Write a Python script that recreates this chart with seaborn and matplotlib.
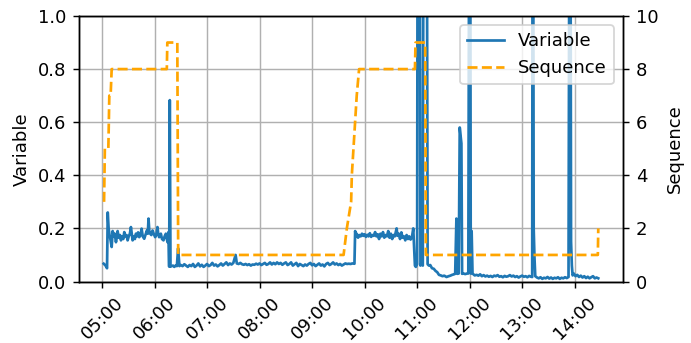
import pandas as pd
import numpy as np
import seaborn as sns
import matplotlib.pyplot as plt
import matplotlib.dates as mdates

# minutes after 05:00 and the variable value
var_min = [1.9, 4, 5.7, 6.5, 7.5, 8.3, 9.5, 11, 12.1, 13.5, 14.5, 15.9, 17, 17.8, 19, 20.5, 21.6, 23, 24.2, 25.4,
           26.5, 28, 29.2, 30.5, 31.8, 33, 34.9, 36, 37.5, 38.7, 40, 41.2, 42.5, 44, 45.2, 46.5, 48.2, 49.5, 51.2,
           52.3, 53.1, 54, 55, 56.3, 57.7, 59, 60.7, 62, 63.3, 64.2, 65.2, 66.2, 67.2, 68.5, 70.2, 71.5, 72.9, 74.8,
           75.9, 76.7, 77.4, 78.2,
           79.5, 81, 82.5, 84, 85.5, 86.9, 88.4, 90, 92, 94, 96, 98, 100, 102, 104, 106, 108, 110, 112, 114, 116,
           118, 120, 122, 124, 126, 128, 130, 132, 134, 136, 138, 140, 142, 144, 146, 148, 150, 152.6, 154, 156,
           158, 160, 162, 164, 166, 168, 170, 172, 174, 176, 178, 180, 182, 184, 186, 188, 190, 192, 194, 196, 198,
           200, 202, 204, 206, 208, 210, 212, 214, 216, 218, 220, 222, 224, 226, 228, 230, 232, 234, 236, 238, 240,
           242, 244, 246, 248, 250, 252, 254, 256, 258, 260, 262, 264, 266, 268, 270, 272, 274, 276, 278, 280, 282,
           284, 286, 288.4,
           289.2, 290, 291, 292.5, 294, 295.5, 297, 298.5, 300, 301.5, 303, 304.5, 306, 307.5, 309, 310.5, 312,
           313.5, 315, 316.5, 318, 319.5, 321, 322.5, 324, 325.5, 327, 328.5, 330, 331.5, 333, 334.5, 336.6, 337.5,
           339, 340.5, 342, 343.5, 345, 346.5, 348, 349.5, 351, 352.5, 354, 355.6,
           357.5, 358.5, 360, 361, 362.5, 363.8, 365, 366.5, 367.8, 370.5, 372, 373.5, 375, 377, 379, 381, 383,
           385, 387, 389, 391, 393.6, 396, 398, 400, 402, 403.5, 404.9, 406, 407.5, 408.7, 409.7, 410.6, 411.4,
           413, 415, 417, 418.5, 420.2, 421.3, 422.3, 423.3, 425.8,
           428, 430, 432, 434, 436, 438, 440, 442, 444, 446, 448, 450, 452, 454, 456, 458, 460, 462, 464, 466, 468,
           470, 472, 474, 476, 478, 480, 482, 484, 486, 488, 490, 491.5, 492.2, 493.2, 494.1, 495, 497, 499, 501,
           503, 505, 507, 509, 511, 513, 515, 517, 519, 521, 523, 525, 527, 529, 531, 533, 534.7, 535.9, 536.8,
           537.7, 539, 541, 543, 545, 547, 549, 551, 553, 555, 557, 559, 561, 563, 565, 567]
var_val = [0.067, 0.06, 0.05, 0.26, 0.2, 0.18, 0.16, 0.13, 0.19, 0.17, 0.18, 0.148, 0.17, 0.19, 0.165, 0.175, 0.155,
           0.17, 0.16, 0.186, 0.17, 0.175, 0.155, 0.17, 0.18, 0.205, 0.155, 0.17, 0.16, 0.18, 0.17, 0.185, 0.167,
           0.175, 0.199, 0.17, 0.161, 0.175, 0.192, 0.18, 0.237, 0.19, 0.18, 0.175, 0.192, 0.18, 0.167, 0.175, 0.205,
           0.18, 0.167, 0.17, 0.18, 0.16, 0.155, 0.17, 0.18, 0.148, 0.186, 0.056, 0.683, 0.056,
           0.058, 0.06, 0.055, 0.06, 0.058, 0.125, 0.058, 0.062, 0.058, 0.065, 0.06, 0.055, 0.062, 0.058, 0.066,
           0.055, 0.06, 0.068, 0.057, 0.063, 0.055, 0.06, 0.066, 0.058, 0.062, 0.07, 0.06, 0.064, 0.057, 0.062,
           0.068, 0.06, 0.066, 0.072, 0.062, 0.068, 0.064, 0.07, 0.1, 0.068, 0.066, 0.07, 0.065, 0.063, 0.066, 0.062,
           0.065, 0.06, 0.064, 0.063, 0.067, 0.064, 0.068, 0.062, 0.066, 0.07, 0.063, 0.066, 0.072, 0.064, 0.07,
           0.065, 0.072, 0.066, 0.07, 0.063, 0.068, 0.072, 0.062, 0.066, 0.072, 0.06, 0.065, 0.07, 0.058, 0.066,
           0.062, 0.058, 0.064, 0.06, 0.066, 0.07, 0.061, 0.066, 0.058, 0.063, 0.068, 0.06, 0.064, 0.057, 0.066,
           0.07, 0.062, 0.066, 0.072, 0.064, 0.068, 0.062, 0.066, 0.06, 0.064, 0.068, 0.066, 0.067, 0.066, 0.068,
           0.067,
           0.19, 0.17, 0.18, 0.165, 0.175, 0.17, 0.18, 0.172, 0.178, 0.168, 0.176, 0.17, 0.182, 0.168, 0.175, 0.172,
           0.186, 0.17, 0.178, 0.16, 0.18, 0.17, 0.186, 0.165, 0.175, 0.17, 0.19, 0.165, 0.18, 0.16, 0.175, 0.17,
           0.2, 0.172, 0.18, 0.16, 0.185, 0.165, 0.17, 0.155, 0.175, 0.16, 0.17, 0.158, 0.165, 0.2,
           0.06, 0.055, 0.065, 2.5, 2.5, 0.06, 0.07, 0.06, 2.5, 2.5, 0.065, 0.06, 0.062, 0.05, 0.048, 0.04, 0.035,
           0.025, 0.023, 0.02, 0.022, 0.017, 0.02, 0.022, 0.025, 0.027, 0.029, 0.237, 0.029, 0.03, 0.58, 0.55, 0.52,
           0.029, 0.03, 0.028, 0.03, 0.03, 2.5, 0.03, 0.19, 0.03, 0.023,
           0.025, 0.022, 0.027, 0.02, 0.024, 0.019, 0.022, 0.018, 0.021, 0.017, 0.022, 0.02, 0.024, 0.018, 0.02,
           0.016, 0.021, 0.018, 0.02, 0.024, 0.019, 0.022, 0.017, 0.02, 0.015, 0.019, 0.022, 0.018, 0.02, 0.016,
           0.021, 0.018, 0.017, 2.5, 0.2, 0.09, 0.02, 0.015, 0.012, 0.016, 0.01, 0.014, 0.012, 0.017, 0.011, 0.015,
           0.01, 0.014, 0.012, 0.016, 0.01, 0.014, 0.012, 0.016, 0.013, 0.017, 2.5, 0.15, 0.06, 0.023, 0.03, 0.02,
           0.025, 0.017, 0.022, 0.015, 0.02, 0.013, 0.018, 0.012, 0.016, 0.02, 0.012, 0.015, 0.012]

# sequence steps (minutes after 05:00, value)
seq_min = [2.3, 3.2, 7.2, 8.3, 9.8, 11, 74, 74.6, 86, 87, 276, 279.7, 284.6, 285.4, 291, 293.7,
           357.5, 358.2, 369.2, 370, 566.5, 567]
seq_val = [3, 5, 5, 7, 7, 8, 8, 9, 9, 1, 1, 2, 3, 4, 7, 8, 8, 9, 9, 1, 1, 2]

start = pd.Timestamp("2021-01-01 05:00")
var_df = pd.DataFrame({"time": start + pd.to_timedelta(var_min, unit="m"), "Variable": var_val})
seq_df = pd.DataFrame({"time": start + pd.to_timedelta(seq_min, unit="m"), "Sequence": seq_val})

fig = plt.figure(figsize=(6.91 / 1.3, 3.43 / 1.3), dpi=130)
ax = fig.add_subplot(111)
fig.subplots_adjust(left=0.1143, right=0.9016, bottom=0.1793, top=0.9534)

sns.lineplot(data=var_df, x="time", y="Variable", ax=ax, color="#1f77b4", label="Variable", legend=False)
ax.set_ylim(0, 1)
ax.set_xlabel("")
ax.set_ylabel("Variable")
ax.grid(True)

ax2 = ax.twinx()
sns.lineplot(data=seq_df, x="time", y="Sequence", ax=ax2, color="orange", linestyle="--",
             label="Sequence", legend=False)
ax2.set_ylim(0, 10)
ax2.set_ylabel("Sequence")

ax.xaxis.set_major_locator(mdates.HourLocator(interval=1))
ax.xaxis.set_major_formatter(mdates.DateFormatter("%H:%M"))
for lbl in ax.get_xticklabels():
    lbl.set_rotation(45)

handles = [ax.get_lines()[0], ax2.get_lines()[0]]
ax2.legend(handles, ["Variable", "Sequence"], loc="upper right")

fig.savefig("out.png", dpi=130)
